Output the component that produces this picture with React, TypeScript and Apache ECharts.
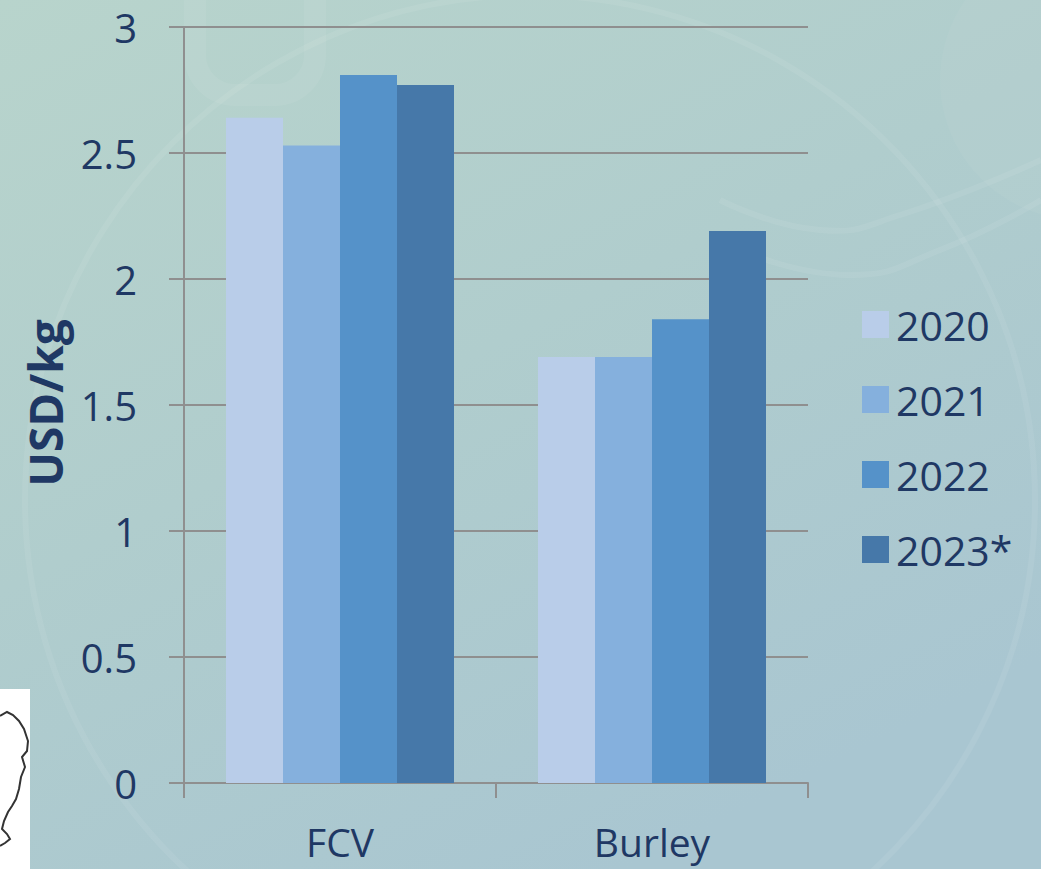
import React, { useEffect, useRef } from "react";
import * as echarts from "echarts";

const categories = ["FCV", "Burley"];
const seriesNames = ["2020", "2021", "2022", "2023*"];
const values2020 = [2.64, 1.69];
const values2021 = [2.53, 1.69];
const values2022 = [2.81, 1.84];
const values2023 = [2.77, 2.19];
const seriesValues = [values2020, values2021, values2022, values2023];
const colors = ["#b9cde9", "#85b0dd", "#5592c9", "#4678a9"];
const yTicks = { min: 0, max: 3, interval: 0.5 };
const yTitle = "USD/kg";

const textColor = "#1f3864";
const font = "'Open Sans', 'Noto Sans', sans-serif";

export default function App() {
  const ref = useRef<HTMLDivElement>(null);
  useEffect(() => {
    document.body.style.margin = "0";
    const chart = echarts.init(ref.current!, null, { renderer: "svg" });
    const outline = [
      [0, 716], [7, 712], [13, 715], [19, 721], [24, 729], [28, 741], [27, 751],
      [22, 757], [25, 767], [21, 777], [19, 789], [16, 799], [12, 806], [8, 812],
      [4, 821], [2, 829], [7, 834], [10, 839], [5, 843], [0, 846],
    ];
    chart.setOption({
      animation: false,
      backgroundColor: {
        type: "linear", x: 0, y: 0, x2: 0.6, y2: 1,
        colorStops: [
          { offset: 0, color: "#b8d4cc" },
          { offset: 0.5, color: "#b0cdcd" },
          { offset: 1, color: "#a9c6d1" },
        ],
      },
      graphic: [
        {
          type: "circle", silent: true, z: -10,
          shape: { cx: 530, cy: 500, r: 505 },
          style: { fill: "none", stroke: "rgba(255,255,255,0.07)", lineWidth: 6 },
        },
        {
          type: "circle", silent: true, z: -10,
          shape: { cx: 1080, cy: 80, r: 140 },
          style: { fill: "rgba(255,255,255,0.04)", stroke: "none" },
        },
        {
          type: "rect", silent: true, z: -10,
          shape: { x: 195, y: -40, width: 120, height: 135, r: 40 },
          style: { fill: "none", stroke: "rgba(255,255,255,0.06)", lineWidth: 22 },
        },
        {
          type: "polyline", silent: true, z: -10,
          shape: { points: [[720, 200], [820, 230], [900, 215], [1041, 160]], smooth: 0.5 },
          style: { fill: "none", stroke: "rgba(255,255,255,0.07)", lineWidth: 6 },
        },
        {
          type: "polyline", silent: true, z: -10,
          shape: { points: [[740, 250], [850, 275], [940, 250], [1041, 200]], smooth: 0.5 },
          style: { fill: "none", stroke: "rgba(255,255,255,0.07)", lineWidth: 6 },
        },
        {
          type: "rect", silent: true, z: 10,
          shape: { x: 0, y: 689, width: 30, height: 180 },
          style: { fill: "#ffffff" },
        },
        {
          type: "polyline", silent: true, z: 11,
          shape: { points: outline },
          style: { fill: "none", stroke: "#333333", lineWidth: 2 },
        },
        {
          type: "text", x: 45, y: 403, rotation: Math.PI / 2,
          style: {
            text: yTitle, align: "center", verticalAlign: "middle",
            fill: textColor, font: `bold 46px ${font}`,
          },
        },
      ],
      grid: { left: 184, right: 233, top: 27, bottom: 86, containLabel: false },
      legend: {
        orient: "vertical", left: 857, top: 299,
        itemWidth: 27, itemHeight: 27, itemGap: 34,
        icon: "rect",
        textStyle: { color: textColor, fontSize: 41, fontFamily: font, lineHeight: 40, padding: [0, 0, 0, 2] },
        data: seriesNames,
      },
      xAxis: {
        type: "category", data: categories,
        axisLine: { show: true, lineStyle: { color: "#8f8f8f", width: 2 } },
        axisTick: { show: true, length: 15, inside: false, lineStyle: { color: "#8f8f8f", width: 2 } },
        axisLabel: { color: textColor, fontSize: 39, fontFamily: font, margin: 38, lineHeight: 40 },
        splitLine: { show: false },
      },
      yAxis: {
        type: "value", min: yTicks.min, max: yTicks.max, interval: yTicks.interval,
        axisLine: { show: true, lineStyle: { color: "#8f8f8f", width: 2 } },
        axisTick: { show: true, length: 15, inside: false, lineStyle: { color: "#8f8f8f", width: 2 } },
        axisLabel: { color: textColor, fontSize: 40, fontFamily: font, margin: 47 },
        splitLine: { show: true, lineStyle: { color: "#8f8f8f", width: 2 } },
      },
      series: seriesNames.map((name, i) => ({
        name, type: "bar", data: seriesValues[i],
        barWidth: 57, barGap: "0%",
        itemStyle: { color: colors[i] },
      })),
    });
    return () => chart.dispose();
  }, []);
  return <div ref={ref} style={{ position: "absolute", left: 0, top: 0, width: 1041, height: 869 }} />;
}
